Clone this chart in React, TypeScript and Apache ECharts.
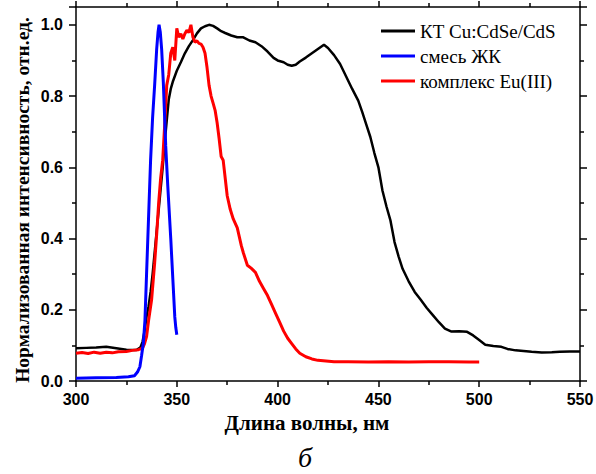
import React, { useEffect, useRef } from "react";
import * as echarts from "echarts";

const xTicks = [300, 350, 400, 450, 500, 550];
const yTicks = [0, 0.2, 0.4, 0.6, 0.8, 1.0];

const seriesNames = ["КТ Cu:CdSe/CdS", "смесь ЖК", "комплекс Eu(III)"];

const qdX = [300, 305, 310, 315, 320, 325, 328, 330, 332, 333, 334, 335, 336, 337, 338, 339, 340, 341, 342, 343, 344, 345, 346, 347, 348, 350, 352, 354, 356, 358, 360, 362, 364, 366, 368, 370, 372, 374, 377, 380, 383, 386, 389, 392, 395, 398, 400, 403, 405, 407, 409, 411, 414, 417, 420, 423, 425, 428, 431, 434, 437, 440, 442, 444, 446, 448, 450, 452, 454, 456, 458, 460, 462, 465, 468, 471, 474, 477, 480, 483, 486, 490, 494, 497, 500, 503, 507, 511, 514, 518, 522, 526, 531, 536, 540, 545, 550];
const qdY = [0.092, 0.093, 0.094, 0.096, 0.092, 0.088, 0.087, 0.087, 0.095, 0.11, 0.14, 0.18, 0.21, 0.25, 0.3, 0.36, 0.42, 0.48, 0.54, 0.6, 0.67, 0.73, 0.79, 0.82, 0.84, 0.871, 0.895, 0.92, 0.94, 0.957, 0.976, 0.99, 0.996, 1.0, 0.997, 0.99, 0.982, 0.977, 0.97, 0.965, 0.965, 0.956, 0.951, 0.94, 0.925, 0.907, 0.9, 0.895, 0.888, 0.885, 0.888, 0.897, 0.908, 0.92, 0.932, 0.944, 0.935, 0.915, 0.89, 0.855, 0.82, 0.787, 0.755, 0.72, 0.685, 0.64, 0.6, 0.535, 0.49, 0.45, 0.39, 0.35, 0.315, 0.28, 0.25, 0.228, 0.205, 0.185, 0.165, 0.147, 0.139, 0.14, 0.138, 0.128, 0.115, 0.102, 0.098, 0.096, 0.09, 0.086, 0.084, 0.082, 0.08, 0.081, 0.082, 0.083, 0.083];

const lcX = [300, 310, 320, 326, 329, 330.5, 331.7, 332.5, 333.4, 334.2, 335, 336, 337, 338, 339, 340, 340.7, 341.2, 341.8, 342.5, 343.3, 344.5, 345.5, 347, 348, 349, 349.5, 350];
const lcY = [0.008, 0.009, 0.01, 0.012, 0.015, 0.025, 0.04, 0.07, 0.106, 0.17, 0.3, 0.46, 0.62, 0.74, 0.83, 0.93, 0.98, 1.0, 0.98, 0.93, 0.84, 0.66, 0.55, 0.4, 0.29, 0.18, 0.15, 0.13];

const euX = [300, 303, 306, 309, 312, 315, 318, 321, 325, 328, 331, 333, 334, 335, 336, 337.5, 339, 340, 341, 342, 343, 344, 345, 346, 347, 348, 349, 350, 351, 352, 353, 354, 355, 356, 357, 358, 359, 360, 361, 362, 363, 364, 365, 366, 367, 368, 369, 370, 371, 372, 373, 374, 375, 376.5, 378, 380, 382, 383, 385, 387, 389, 391, 393, 395, 397, 399, 401, 403, 405, 407, 409, 411, 414, 417, 420, 424, 428, 435, 445, 455, 465, 475, 485, 495, 500];
const euY = [0.078, 0.08, 0.077, 0.081, 0.078, 0.081, 0.079, 0.082, 0.083, 0.086, 0.088, 0.092, 0.105, 0.125, 0.17, 0.228, 0.33, 0.41, 0.5, 0.57, 0.62, 0.72, 0.83, 0.86, 0.92, 0.937, 0.9, 0.99, 0.965, 0.975, 0.96, 0.975, 0.985, 0.978, 1.0, 0.965, 0.951, 0.955, 0.948, 0.946, 0.937, 0.92, 0.88, 0.83, 0.8, 0.78, 0.76, 0.725, 0.68, 0.63, 0.62, 0.57, 0.52, 0.482, 0.455, 0.43, 0.38, 0.36, 0.325, 0.316, 0.305, 0.28, 0.26, 0.24, 0.215, 0.19, 0.165, 0.14, 0.12, 0.105, 0.09, 0.078, 0.068, 0.062, 0.058, 0.056, 0.054, 0.054, 0.053, 0.054, 0.053, 0.054, 0.054, 0.053, 0.053];

const zip = (xs: number[], ys: number[]) => xs.map((x, i) => [x, ys[i]]);

export default function App() {
  const ref = useRef<HTMLDivElement>(null);
  useEffect(() => {
    if (!ref.current) return;
    const chart = echarts.init(ref.current, undefined, { renderer: "svg" });
    const tickFont = { fontFamily: "Liberation Sans", fontWeight: "bold" as const, fontSize: 16, color: "#000" };
    const axisLine = { show: true, onZero: false, lineStyle: { color: "#000", width: 1.5 } };
    const commonX = {
      type: "value" as const,
      min: xTicks[0],
      max: xTicks[xTicks.length - 1],
      interval: 50,
      axisLine,
      splitLine: { show: false },
      axisTick: { show: true, inside: false, length: 6, lineStyle: { color: "#000", width: 1.5 } },
      minorTick: { show: true, splitNumber: 2, length: 4, lineStyle: { color: "#000", width: 1.5 } },
    };
    const commonY = {
      type: "value" as const,
      min: 0,
      max: 1.05,
      interval: 0.2,
      axisLine,
      splitLine: { show: false },
      axisTick: { show: true, inside: false, length: 7, lineStyle: { color: "#000", width: 1.5 } },
      minorTick: { show: true, splitNumber: 2, length: 4, lineStyle: { color: "#000", width: 1.5 } },
    };
    chart.setOption({
      animation: false,
      backgroundColor: "#fff",
      grid: { left: 76, right: 16, top: 7, bottom: 93, containLabel: false, outerBoundsMode: "none" },
      xAxis: [
        { ...commonX, position: "bottom", axisLabel: { ...tickFont, margin: 10 } },
        { ...commonX, position: "top", axisLabel: { show: false } },
      ],
      yAxis: [
        {
          ...commonY,
          position: "left",
          axisLabel: { ...tickFont, margin: 13, showMaxLabel: false, formatter: (v: number) => (yTicks.some((t) => Math.abs(t - v) < 1e-6) ? v.toFixed(1) : "") },
        },
        { ...commonY, position: "right", axisLabel: { show: false } },
      ],
      legend: {
        data: seriesNames,
        orient: "vertical",
        left: 376,
        top: 16,
        icon: "rect",
        itemWidth: 34,
        itemHeight: 3,
        itemGap: 5,
        textStyle: { fontFamily: "Liberation Serif", fontSize: 19, color: "#000", lineHeight: 20 },
      },
      series: [
        { name: seriesNames[0], type: "line", data: zip(qdX, qdY), symbol: "none", lineStyle: { color: "#000", width: 2.5 }, itemStyle: { color: "#000" }, z: 2 },
        { name: seriesNames[2], type: "line", data: zip(euX, euY), symbol: "none", lineStyle: { color: "#ff0000", width: 3 }, itemStyle: { color: "#ff0000" }, z: 3 },
        { name: seriesNames[1], type: "line", data: zip(lcX, lcY), symbol: "none", lineStyle: { color: "#0000ff", width: 3 }, itemStyle: { color: "#0000ff" }, z: 4 },
      ],
      graphic: [
        {
          type: "text",
          x: 22,
          y: 200,
          rotation: Math.PI / 2,
          style: { text: "Нормализованная интенсивность, отн.ед.", fontFamily: "Liberation Serif", fontWeight: "bold", fontSize: 19.5, fill: "#000", align: "center", verticalAlign: "middle" },
        },
        {
          type: "text",
          x: 307,
          y: 423,
          style: { text: "Длина волны, нм", fontFamily: "Liberation Serif", fontWeight: "bold", fontSize: 21, fill: "#000", align: "center", verticalAlign: "middle" },
        },
        {
          type: "text",
          x: 305,
          y: 457,
          style: { text: "б", fontFamily: "Liberation Serif", fontStyle: "italic", fontSize: 28, fill: "#000", align: "center", verticalAlign: "middle" },
        },
      ],
    });
    return () => chart.dispose();
  }, []);
  return <div ref={ref} style={{ width: 596, height: 474, position: "absolute", left: 0, top: 0 }} />;
}
